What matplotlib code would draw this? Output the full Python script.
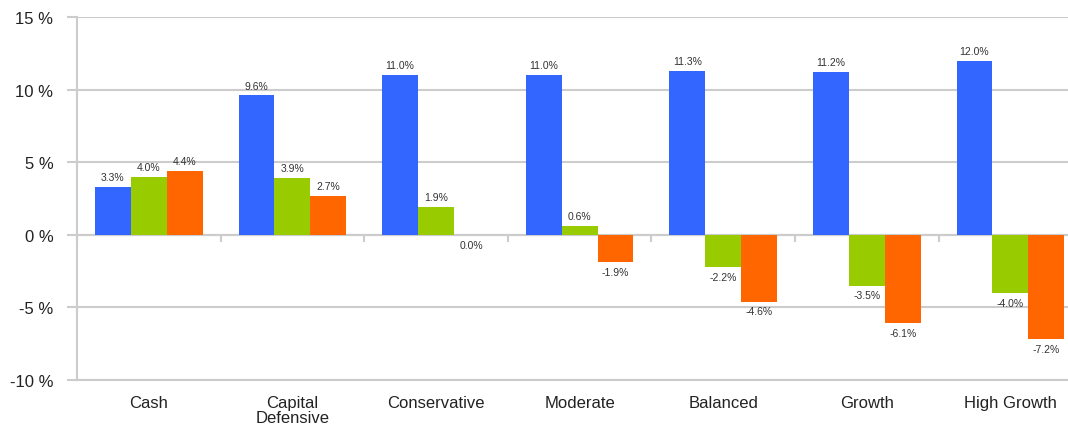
import matplotlib
matplotlib.use("Agg")
import matplotlib.pyplot as plt
import numpy as np

plt.rcParams["font.family"] = ["Liberation Sans", "DejaVu Sans"]

categories = ["Cash", "Capital\nDefensive", "Conservative", "Moderate", "Balanced", "Growth", "High Growth"]
series1 = [3.3, 9.6, 11.0, 11.0, 11.3, 11.2, 12.0]
series2 = [4.0, 3.9, 1.9, 0.6, -2.2, -3.5, -4.0]
series3 = [4.4, 2.7, -0.04, -1.9, -4.6, -6.1, -7.2]
yticks = [-10, -5, 0, 5, 10, 15]
ytick_labels = ["-10 %", "-5 %", "0 %", "5 %", "10 %", "15 %"]

colors = ["#3366FF", "#99CC00", "#FF6600"]
grid_c = "#cccccc"

fig = plt.figure(figsize=(10.68, 4.27), dpi=100)
ax = fig.add_axes([77/1068, 1-381/427, 1-77/1068, (381-18)/427])

x = np.arange(len(categories))
w = 0.25
for k, (vals, c) in enumerate(zip([series1, series2, series3], colors)):
    pos = x + (k-1)*w
    ax.bar(pos, vals, width=w, color=c, zorder=3, linewidth=0)
    for p, v in zip(pos, vals):
        lab = "0.0%" if round(v, 1) == 0 else f"{v:.1f}%"
        if v >= 0:
            ax.annotate(lab, (p, v), xytext=(0, 3.5), textcoords="offset points",
                        ha="center", va="bottom", fontsize=7.5, color="#333333")
        else:
            ax.annotate(lab, (p, v), xytext=(0, -3.5), textcoords="offset points",
                        ha="center", va="top", fontsize=7.5, color="#333333")

ax.set_ylim(-10, 15)
ax.set_xlim(-0.5, (1068-77)/143.6 - 0.5)
ax.set_yticks(yticks)
ax.set_yticklabels(ytick_labels, fontsize=12, color="#222222")
ax.set_xticks(x)
ax.set_xticklabels(categories, fontsize=12, color="#222222", linespacing=1.0)
ax.tick_params(axis="x", length=0, pad=11)
ax.tick_params(axis="y", length=7, width=1.5, color=grid_c, pad=10)

ax.grid(axis="y", color=grid_c, linewidth=1.5, zorder=0)
for s in ["top", "right"]:
    ax.spines[s].set_visible(False)
ax.spines["left"].set_color(grid_c)
ax.spines["left"].set_linewidth(1.5)
ax.spines["bottom"].set_color(grid_c)
ax.spines["bottom"].set_linewidth(1.5)

# zero line with category boundary ticks
sec = ax.secondary_xaxis(0.4)
sec.set_xticks(np.arange(len(categories)+1) - 0.5)
sec.set_xticklabels([])
sec.tick_params(length=5, width=1.5, color=grid_c, direction="out")
sec.spines["bottom"].set_color(grid_c)
sec.spines["bottom"].set_linewidth(1.5)
sec.spines["bottom"].set_zorder(4)

fig.savefig("out.png", dpi=100)
